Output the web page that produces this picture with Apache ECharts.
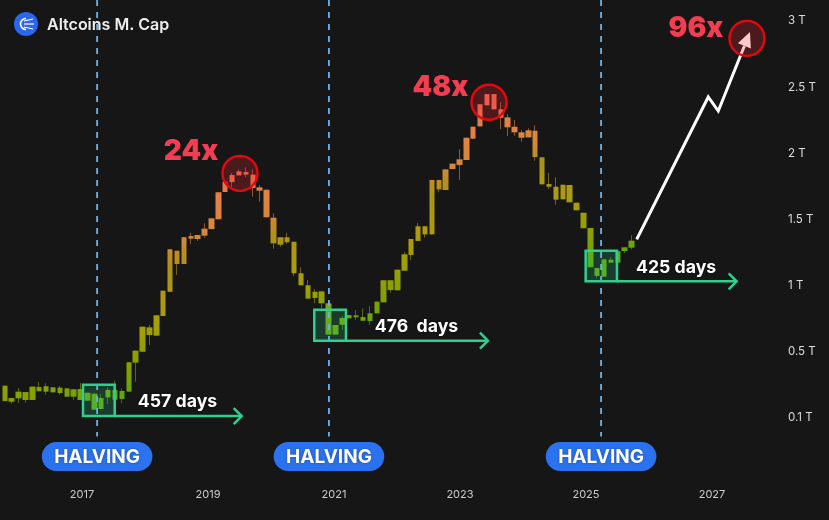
<!DOCTYPE html>
<html><head><meta charset="utf-8">
<style>html,body{margin:0;padding:0;background:#161616}#c{width:829px;height:520px}</style>
<script src="https://cdn.jsdelivr.net/npm/echarts@6/dist/echarts.min.js"></script>
</head><body><div id="c"></div>
<script>
const title = 'Altcoins M. Cap';
const yearTicks = [2017,2019,2021,2023,2025,2027];
const valueTicks = [0,0.5,1,1.5,2,2.5,3];
const valueTickLabels = ['0.1 T','0.5 T','1 T','1.5 T','2 T','2.5 T','3 T'];
const firstPeriod = 2015.774, periodLength = 0.10935;

const opens = [.244,.123,.149,.196,.136,.234,.199,.232,.229,.224,.161,.219,.131,.184,.151,.156,.212,.144,.199,.418,.501,.685,.622,.771,.954,1.264,1.164,1.355,1.353,1.378,1.428,1.502,1.708,1.783,1.834,1.859,1.839,1.743,1.725,1.514,1.310,1.366,1.332,1.094,1.003,.907,.957,.867,.630,.705,.753,.761,.763,.733,.791,.874,1.041,.965,1.113,1.232,1.338,1.449,1.388,1.799,1.723,1.882,1.912,1.950,2.111,2.204,2.363,2.448,2.333,2.272,2.201,2.159,2.121,2.171,1.970,1.768,1.748,1.653,1.761,1.627,1.551,1.436,1.134,1.068,1.196,1.174,1.262,1.287];
const closes = [.128,.151,.199,.136,.237,.202,.240,.194,.189,.161,.217,.136,.191,.063,.068,.212,.138,.204,.421,.509,.690,.627,.776,.962,1.275,1.164,1.366,1.375,1.383,1.431,1.509,1.706,1.786,1.836,1.864,1.839,1.738,1.718,1.517,1.320,1.366,1.328,1.094,1.003,.902,.954,.867,.630,.703,.756,.778,.776,.735,.791,.879,1.041,.967,1.121,1.237,1.353,1.449,1.388,1.799,1.728,1.879,1.922,1.955,2.118,2.201,2.371,2.448,2.333,2.269,2.197,2.159,2.118,2.174,1.972,1.766,1.748,1.650,1.763,1.630,1.570,1.434,1.139,1.073,1.199,1.174,1.260,1.290,1.340];
const lows = [.128,.106,.113,.116,.136,.202,.176,.194,.176,.161,.136,.136,.131,.063,.068,.106,.138,.111,.199,.274,.501,.552,.622,.771,.954,1.081,1.164,1.315,1.338,1.363,1.428,1.502,1.708,1.748,1.834,1.819,1.672,1.635,1.517,1.279,1.295,1.315,1.073,1.003,.902,.867,.831,.630,.630,.665,.753,.741,.735,.703,.791,.874,.947,.965,1.113,1.194,1.338,1.363,1.388,1.706,1.723,1.882,1.799,1.950,2.111,2.204,2.363,2.333,2.184,2.131,2.133,2.088,2.121,1.944,1.766,1.731,1.612,1.653,1.630,1.570,1.434,1.139,1.060,1.068,1.174,1.174,1.247,1.275];
const highs = [.244,.151,.227,.196,.237,.272,.262,.232,.242,.224,.217,.264,.191,.184,.181,.232,.282,.224,.421,.509,.690,.703,.776,.962,1.275,1.264,1.366,1.400,1.383,1.471,1.509,1.706,1.786,1.854,1.879,1.895,1.879,1.761,1.725,1.547,1.366,1.400,1.332,1.139,1.043,.973,.957,.884,.703,.771,.778,.816,.829,.846,.879,1.041,1.041,1.121,1.254,1.353,1.474,1.449,1.799,1.799,1.879,1.922,2.031,2.118,2.201,2.371,2.448,2.448,2.386,2.297,2.252,2.176,2.189,2.212,1.970,1.854,1.819,1.763,1.761,1.627,1.551,1.436,1.134,1.199,1.214,1.260,1.290,1.381];

const halvingYears = [2017.24,2020.92,2025.24];
const halvingLabel = 'HALVING';
const boxStart = [2017.016,2020.687,2024.995];
const boxEnd = [2017.519,2021.19,2025.492];
const boxTop = [.252,.818,1.264];
const boxBottom = [.015,.584,1.033];
const arrowEnd = [2019.535,2023.444,2027.392];
const daysText = ['457 days','476  days','425 days'];
const daysYear = [2018.516,2022.31,2026.43];
const daysValue = [.12,.687,1.133];
const peakText = ['24x','48x','96x'];
const peakTextYear = [2018.73,2022.69,2026.746];
const peakTextValue = [2.01,2.494,2.94];
const peakYear = [2019.508,2023.46,2027.556];
const peakValue = [1.849,2.386,2.869];
const forecastYear = [2025.805,2026.941,2027.1,2027.603];
const forecastValue = [1.35,2.426,2.32,2.917];

const candleYears = opens.map((_, i) => firstPeriod + i * periodLength);
const FONT = 'Inter';
const chart = echarts.init(document.getElementById('c'), null, {renderer:'canvas'});

const heat = new echarts.graphic.LinearGradient(0,240,49.4,416.3,[
 {offset:0.0,color:'#f06a50'},{offset:0.105,color:'#e58048'},{offset:0.284,color:'#d48838'},
 {offset:0.32,color:'#c48a28'},{offset:0.405,color:'#aa9318'},{offset:0.57,color:'#b09a10'},{offset:0.705,color:'#a0a000'},
 {offset:0.885,color:'#80a000'},{offset:1,color:'#60a80a'}],true);

const HY = -0.291;
function customSeries(count, z, render){
  return {type:'custom',coordinateSystem:'cartesian2d',silent:true,z,clip:false,
    data:Array.from({length:count},(_,i)=>[i]),encode:{x:0,y:0},renderItem:render};
}

chart.setOption({
  animation:false,
  backgroundColor:'#161616',
  title:{text:title,left:42,top:12,textStyle:{color:'#eeeeee',fontFamily:FONT,fontSize:16,fontWeight:600}},
  grid:{left:0,right:49,top:0,bottom:32},
  xAxis:{type:'value',min:2015.698,max:2028.08,splitLine:{show:false},axisLine:{show:false},axisTick:{show:false},
    axisLabel:{customValues:yearTicks,color:'#cccccc',fontFamily:FONT,fontSize:11,margin:1,formatter:v=>String(v)}},
  yAxis:{type:'value',position:'right',min:-0.529,max:3.159,splitLine:{show:false},axisLine:{show:false},axisTick:{show:false},
    axisLabel:{customValues:valueTicks,color:'#dddddd',fontFamily:FONT,fontSize:11.5,margin:8,align:'left',padding:[0,0,2,0],
      formatter:v=>valueTickLabels[valueTicks.indexOf(v)]||''}},
  graphic:[{type:'group',left:14,top:12,silent:true,children:[
    {type:'circle',shape:{cx:12,cy:12,r:12},style:{fill:'#2a66ee'}},
    {type:'arc',shape:{cx:12,cy:12,r:5.5,startAngle:Math.PI*0.5,endAngle:Math.PI*1.5},style:{stroke:'#fff',fill:'none',lineWidth:1.6}},
    {type:'line',shape:{x1:10,y1:9,x2:19,y2:7},style:{stroke:'#fff',lineWidth:1.2}},
    {type:'line',shape:{x1:10,y1:12,x2:20,y2:12},style:{stroke:'#fff',lineWidth:1.2}},
    {type:'line',shape:{x1:10,y1:15,x2:19,y2:17},style:{stroke:'#fff',lineWidth:1.2}}
  ]}],
  series:[
    {type:'candlestick',name:'wicks',barWidth:1,z:2,silent:true,encode:{x:0,y:[1,2,3,4]},
     itemStyle:{color:'transparent',color0:'transparent',borderColor:heat,borderColor0:heat,borderWidth:1,opacity:.6},
     data:opens.map((o,i)=>[candleYears[i],o,closes[i],lows[i],highs[i]])},
    {type:'candlestick',name:'bodies',barWidth:6,z:3,silent:true,encode:{x:0,y:[1,2,3,4]},
     itemStyle:{color:heat,color0:heat,borderColor:heat,borderColor0:heat,borderWidth:0},
     data:opens.map((o,i)=>[candleYears[i],o,closes[i],Math.min(o,closes[i]),Math.max(o,closes[i])])},
    customSeries(3,4,(p,api)=>{
      const i=p.dataIndex,a=api.coord([halvingYears[i],3.159]),b=api.coord([halvingYears[i],-0.14]);
      return {type:'line',shape:{x1:a[0],y1:a[1],x2:b[0],y2:b[1]},style:{stroke:'#6db3ea',lineWidth:1.8,lineDash:[6,6]}};
    }),
    customSeries(3,5,(p,api)=>{
      const i=p.dataIndex,a=api.coord([boxStart[i],boxTop[i]]),b=api.coord([boxEnd[i],boxBottom[i]]),e=api.coord([arrowEnd[i],boxBottom[i]]);
      const g='#2fd08e';
      return {type:'group',children:[
        {type:'rect',shape:{x:a[0],y:a[1],width:b[0]-a[0],height:b[1]-a[1]},style:{fill:'rgba(47,208,142,0.2)',stroke:g,lineWidth:2.5}},
        {type:'line',shape:{x1:b[0],y1:b[1],x2:e[0],y2:b[1]},style:{stroke:g,lineWidth:2.5}},
        {type:'polyline',shape:{points:[[e[0]-8,b[1]-8],[e[0],b[1]],[e[0]-8,b[1]+8]]},style:{stroke:g,fill:'none',lineWidth:2.5}}
      ]};
    }),
    customSeries(3,6,(p,api)=>{
      const i=p.dataIndex,c=api.coord([daysYear[i],daysValue[i]]);
      return {type:'text',style:{x:c[0],y:c[1],text:daysText[i],fill:'#ffffff',font:'700 17.7px '+FONT,align:'center',verticalAlign:'middle',textShadowColor:'rgba(0,0,0,.5)',textShadowBlur:3}};
    }),
    customSeries(3,6,(p,api)=>{
      const i=p.dataIndex,c=api.coord([halvingYears[i],HY]);
      return {type:'group',children:[
        {type:'rect',shape:{x:c[0]-55.3,y:c[1]-14.6,width:110.6,height:29.2,r:14.6},style:{fill:'#2a72f0'}},
        {type:'text',style:{x:c[0],y:c[1]+1,text:halvingLabel,fill:'#ffffff',font:'700 19px '+FONT,align:'center',verticalAlign:'middle',textShadowColor:'rgba(0,0,0,.3)',textShadowBlur:3}}
      ]};
    }),
    customSeries(1,7,(p,api)=>{
      const pts=forecastYear.map((y,i)=>api.coord([y,forecastValue[i]]));
      const tip=pts[pts.length-1],prev=pts[pts.length-2];
      const ang=Math.atan2(tip[1]-prev[1],tip[0]-prev[0]),L=15,W=7;
      const bx=tip[0]-L*Math.cos(ang),by=tip[1]-L*Math.sin(ang);
      const nx=-Math.sin(ang)*W,ny=Math.cos(ang)*W;
      return {type:'group',children:[
        {type:'polyline',shape:{points:pts.slice(0,-1).concat([[bx,by]])},style:{stroke:'#ffffff',fill:'none',lineWidth:3,lineJoin:'miter'}},
        {type:'polygon',shape:{points:[tip,[bx+nx,by+ny],[bx-nx,by-ny]]},style:{fill:'#ffffff'}}
      ]};
    }),
    customSeries(3,8,(p,api)=>{
      const i=p.dataIndex,c=api.coord([peakYear[i],peakValue[i]]);
      return {type:'circle',shape:{cx:c[0],cy:c[1],r:17.5},style:{fill:'rgba(235,40,50,0.25)',stroke:'#e4080e',lineWidth:2.4}};
    }),
    customSeries(3,8,(p,api)=>{
      const i=p.dataIndex,c=api.coord([peakTextYear[i],peakTextValue[i]]);
      return {type:'text',style:{x:c[0],y:c[1],text:peakText[i],fill:'#f23d52',font:'900 28px '+FONT,align:'center',verticalAlign:'middle'}};
    })
  ]
});
</script></body></html>
